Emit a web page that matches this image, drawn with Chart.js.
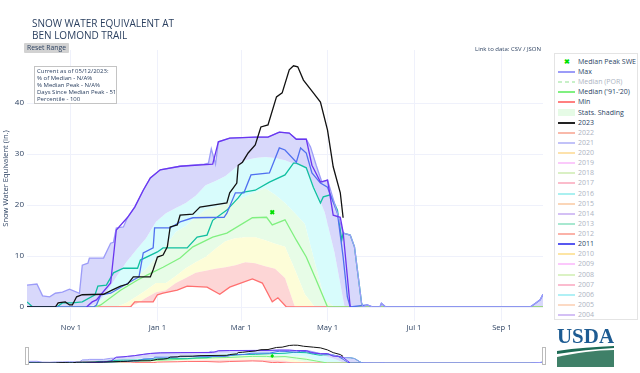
<!DOCTYPE html>
<html>
<head>
<meta charset="utf-8">
<title>Snow Water Equivalent</title>
<script src="https://cdn.jsdelivr.net/npm/chart.js@4"></script>
<style>
  html, body { margin: 0; padding: 0; background: #fff; }
  body { width: 640px; height: 373px; position: relative; overflow: hidden; font-family: "Open Sans", sans-serif; color: #2a3f5f; }
  canvas { position: absolute; left: 0; }
  #title { position: absolute; left: 32px; top: 17px; font-size: 10px; line-height: 12px; }
  #reset { position: absolute; left: 24px; top: 43px; width: 45px; height: 10px; background: #d2d2d2; font-size: 6.8px; line-height: 10px; text-align: center; border-radius: 1px; }
  #note { position: absolute; left: 34px; top: 66px; width: 79px; height: 35px; background: #fff; border: 1px solid #c4c4c4; font-size: 6px; line-height: 7px; padding: 1px 0 0 2px; white-space: nowrap; }
  #link { position: absolute; left: 475px; top: 45px; font-size: 6px; line-height: 8px; white-space: nowrap; }
  #legend { position: absolute; left: 554px; top: 53px; width: 82px; height: 265px; border: 1px solid #e4e4e4; background: #fff; }
  .row { position: absolute; left: 3px; height: 10px; width: 78px; font-size: 7px; line-height: 10px; white-space: nowrap; }
  .row .sw { position: absolute; left: 0; top: 4px; width: 17px; height: 2px; }
  .row .tx { position: absolute; left: 20px; top: 0; }
  .handle { position: absolute; top: 347px; width: 2px; height: 16px; border: 1px solid #bbb; background: #fff; }
  #usda { position: absolute; left: 556px; top: 325px; }
</style>
</head>
<body>
<canvas id="mainChart" width="640" height="340" style="top:0"></canvas>
<canvas id="sliderChart" width="640" height="31" style="top:338px"></canvas>
<div id="title">SNOW WATER EQUIVALENT AT<br>BEN LOMOND TRAIL</div>
<div id="reset">Reset Range</div>
<div id="note">Current as of 05/12/2023:<br>% of Median - N/A%<br>% Median Peak - N/A%<br>Days Since Median Peak - 51<br>Percentile - 100</div>
<div id="link">Link to data: CSV / JSON</div>
<div id="legend"></div>
<div class="handle" style="left:25px"></div>
<div class="handle" style="left:542px"></div>
<svg id="usda" width="60" height="44" viewBox="0 0 60 44">
  <text x="1" y="18" font-family="Liberation Serif" font-size="22" font-weight="bold" textLength="57" lengthAdjust="spacingAndGlyphs" fill="#1d5b92">USDA</text>
  <path d="M1 26 C 20 23 40 22 58 21 L58 23 C 40 24 20 26 1 29 Z" fill="#1d6b55"/>
  <path d="M1 32 C 20 28 40 25 58 25 L58 42 L1 42 Z" fill="#3f8068"/>
</svg>
<script>
// water year days, 0 = Oct 1
const tickDays = [31, 92, 151, 212, 273, 335];
const tickLabels = ["Nov 1", "Jan 1", "Mar 1", "May 1", "Jul 1", "Sep 1"];

// percentile bands share one weekly day list
const bandDays = [0,7,14,21,28,35,42,49,56,63,70,77,84,91,98,105,112,119,126,133,140,147,154,161,168,175,182,189,196,203,210,217,224,231,238,364];
const p10 = [0,0,0,0,0,0,0,0,0,0,0,0.6,1.8,2.9,3.3,4.7,5.7,6.7,7.1,7.5,7.8,8.2,8.8,8.6,8,7.5,5.7,0,0,0,0,0,0,0,0,0];
const p30 = [0,0,0,0,0,0,0,0,0,0,0.8,2,3.3,4.7,4.7,6.1,7.6,8.8,9.8,11.4,12.9,13.5,13.7,13.7,13.1,12.4,11.8,7.3,2.5,0,0,0,0,0,0,0];
const p70 = [0,0,0,0,0,0,0,0.4,2.2,3.5,4.3,5.7,7.5,9.6,12,14.7,15.9,17.6,19,19.6,20.2,20.8,21.6,22.5,23.3,22,20.4,18.4,16.3,8.8,1.4,0,0,0,0,0];
const p90 = [0,0,0,0,0,0,0,0.6,2.9,5.9,8.8,11.2,13.5,16.7,18.4,19.4,20.4,21.8,23.9,24.7,25.7,27.3,28.8,29.2,29.4,29.2,28.8,28,27.5,23.3,18.6,10.6,0,0,0,0];

const minDays = [0,73,76,89,92,96,106,113,127,136,143,159,166,173,177,183,364];
const minVals = [0,0,1,1,2.4,2.7,3.3,4.1,3.9,2.5,3.9,5.5,4.7,1,1.8,0,0];

const maxDays = [0,7,11,16,20,25,30,37,39,43,44,54,59,61,63,68,71,76,82,87,94,108,125,128,130,133,135,143,161,170,178,185,190,197,200,204,208,212,219,222,223,228,231,236,237,240,244,249,250,253,355,358,362,364];
const maxVals = [4.3,4.5,2.2,2,2.7,2.9,3.5,2.7,8.2,8.6,9.6,9.6,12.5,12.7,15.5,15.7,17.6,19.6,22.9,25.3,26.9,27.6,28,28.2,31,28,32.4,33.1,33.3,33.3,34.3,34.1,32.9,32.9,31.4,27.8,24.5,24.9,18.4,15.5,14.5,14.1,11.8,0.8,0,0.4,0,0,0.7,0,0,0.6,1.4,2.5];

const medianDays = [0,48,52,66,78,85,96,108,117,131,141,159,169,173,182,190,197,204,212,364];
const medianVals = [0,0,0.4,3.3,5.3,6.3,7.8,9.6,11.8,13.7,14.5,17.5,17.6,16.1,17.1,13.1,9.8,5.3,0,0];

const peakDay = [173];
const peakSwe = [18.6];

const days2023 = [0,20,22,27,30,32,35,39,54,60,66,71,75,87,89,92,96,99,101,106,108,117,122,141,143,148,149,152,156,161,165,170,176,180,185,188,191,195,202,207,212,216,221,223];
const swe2023 = [0,0,0.8,1,0.4,0.4,2,2.4,2.5,3.3,4.1,4.5,5.9,5.9,7.3,9.8,10.2,11.8,15.7,16.1,18,18.2,19.6,20.4,22.4,24.3,27.8,28.4,30.2,31.8,35.3,35.7,41.2,42,46.5,47.3,47.1,44.5,42,40.2,34.7,27.5,22.4,17.5];

const days2011 = [0,47,49,52,59,75,79,82,89,90,101,108,117,139,141,147,153,158,171,178,182,190,193,197,201,207,212,219,223,226,228,240,244,249,250,253,355,358,362,364];
const swe2011 = [0,0,0.4,2.4,2.7,5.3,5.9,10.6,11.6,15.5,15.5,16.7,17.5,17.6,18.4,22.4,22.4,25.9,26.3,31.2,30.8,28.4,31.2,30.2,26.3,24.3,23.5,18.4,9.8,2,0,0.4,0,0,0.7,0,0,0.6,1.4,2.5];

// the teal and violet years drawn on top of the shading
const tealDays = [0,4,21,25,32,39,48,50,56,61,68,78,80,92,96,113,120,127,131,141,149,152,161,171,182,188,190,197,202,207,209,214,219,222,223,228,231,236,237];
const tealVals = [1,0,0,0.8,0.8,1,2.4,4.1,4.3,6.7,7.6,7.6,9.2,10.8,11.6,11.6,13.7,14.1,17,19,21.4,22.5,22.9,24.5,25.9,28.2,28.2,27.3,23.5,20.4,21.6,22,19,13.1,14.5,14.1,11.8,0.8,0];
const violetDays = [42,46,49,59,63,71,76,82,87,94,108,131,135,143,161,170,178,185,190,197,201,207,212,216,221,223,226,228];
const violetVals = [0,1,1.4,4.7,15.1,17.6,19.6,22.9,25.3,26.9,27.6,28,32.4,33.1,33.3,33.3,34.3,34.1,32.9,32.9,27.8,24.5,24.9,18,17.6,14.7,5.9,0];

const legendNames = ["Median Peak SWE","Max","Median (POR)","Median ('91-'20)","Min","Stats. Shading","2023","2022","2021","2020","2019","2018","2017","2016","2015","2014","2013","2012","2011","2010","2009","2008","2007","2006","2005","2004"];
const legendColors = ["#00e000","#9c9cf8","#c8f0c8","#80f080","#ff8080","#e6fbe6","#222222","#f9b9aa","#c2c2f8","#fde2ac","#fbcafb","#daf0c4","#fbbccb","#aaf0f0","#fbd6b8","#d4c0f5","#a8e8d0","#fbb2a8","#5858f0","#fde5a4","#fcc8fc","#dbf2c4","#fbbccf","#b0f0f5","#fcdac4","#d4c0f5"];
const activeNames = ["Median Peak SWE","Max","Median ('91-'20)","Min","Stats. Shading","2023","2011"];

function pts(days, vals) {
  return days.map((d, i) => ({ x: d, y: vals[i] }));
}

function buildDatasets(w, markerSize) {
  function band(data, fillColor, fillTo) {
    return { data: data, borderWidth: 0, pointRadius: 0, tension: 0, backgroundColor: fillColor, fill: fillTo, order: 20 };
  }
  function line(data, color, width, order) {
    return { data: data, borderColor: color, borderWidth: width, pointRadius: 0, tension: 0, fill: false, order: order };
  }
  return [
    line(pts(minDays, minVals), "#ff7070", w, 9),
    band(pts(bandDays, p10), "#fdd6d6", 0),
    band(pts(bandDays, p30), "#fdfdd8", 1),
    band(pts(bandDays, p70), "#e7fce7", 2),
    band(pts(bandDays, p90), "#d8fcfc", 3),
    Object.assign(line(pts(maxDays, maxVals), "#9c9cf8", w, 4), { backgroundColor: "#d8d8fb", fill: 4 }),
    line(pts(medianDays, medianVals), "#80f080", w, 7),
    line(pts(violetDays, violetVals), "#6a35f0", w, 3),
    line(pts(tealDays, tealVals), "#10bfa0", w, 6),
    line(pts(days2011, swe2011), "#5070f0", w, 5),
    line(pts(days2023, swe2023), "#111111", w, 2),
    { data: pts(peakDay, peakSwe), showLine: false, pointStyle: "crossRot", pointRadius: markerSize, pointBorderWidth: 2, pointBorderColor: "#00e000", order: 1 }
  ];
}

new Chart(document.getElementById("mainChart"), {
  type: "line",
  data: { datasets: buildDatasets(1.3, 2.5) },
  options: {
    responsive: false,
    animation: false,
    layout: { padding: { left: 0, right: 97, top: 50, bottom: 5 } },
    plugins: {
      legend: { display: false },
      tooltip: { enabled: false },
      filler: { drawTime: "beforeDatasetsDraw" }
    },
    scales: {
      x: {
        type: "linear",
        min: 0,
        max: 364,
        afterBuildTicks: (scale) => { scale.ticks = tickDays.map(d => ({ value: d })); },
        afterFit: (scale) => { scale.height = 28; },
        grid: { color: "#eff1fb", tickLength: 14, tickColor: "#eff1fb" },
        border: { display: false },
        ticks: {
          autoSkip: false,
          maxRotation: 0,
          padding: 2,
          color: "#2a3f5f",
          font: { family: "Open Sans", size: 7.6 },
          callback: (v) => tickLabels[tickDays.indexOf(v)]
        }
      },
      y: {
        min: 0,
        max: 50.4,
        afterBuildTicks: (scale) => { scale.ticks = [0, 10, 20, 30, 40].map(v => ({ value: v })); },
        afterFit: (scale) => { scale.width = 27; },
        grid: { color: "#eff1fb", drawTicks: false },
        border: { display: false },
        title: { display: true, text: "Snow Water Equivalent (in.)", color: "#2a3f5f", padding: { top: 1, bottom: 0 }, font: { family: "Open Sans", size: 7.6, weight: "normal" } },
        ticks: { padding: 3, color: "#2a3f5f", font: { family: "Open Sans", size: 8 } }
      }
    }
  }
});

new Chart(document.getElementById("sliderChart"), {
  type: "line",
  data: { datasets: buildDatasets(1, 1.5) },
  options: {
    responsive: false,
    animation: false,
    layout: { padding: { left: 27, right: 97, top: 0, bottom: 0 } },
    plugins: {
      legend: { display: false },
      tooltip: { enabled: false },
      filler: { drawTime: "beforeDatasetsDraw" }
    },
    scales: {
      x: { type: "linear", min: 0, max: 364, display: false },
      y: { min: 0, max: 50.4, display: false }
    }
  }
});

const legendBox = document.getElementById("legend");
legendNames.forEach((name, i) => {
  const active = activeNames.includes(name);
  const row = document.createElement("div");
  row.className = "row";
  row.style.top = (3 + i * 10.12) + "px";
  const sw = document.createElement("span");
  sw.className = "sw";
  sw.style.background = legendColors[i];
  const tx = document.createElement("span");
  tx.className = "tx";
  tx.textContent = name;
  tx.style.color = active ? "#2a3f5f" : "#adb4c2";
  if (name === "Median Peak SWE") {
    sw.style.background = "none";
    sw.style.color = legendColors[i];
    sw.style.top = "0";
    sw.style.height = "10px";
    sw.style.textAlign = "center";
    sw.style.fontWeight = "bold";
    sw.textContent = "\u2716";
  }
  if (name === "Stats. Shading") {
    sw.style.height = "7px";
    sw.style.top = "1.5px";
  }
  if (name === "Median (POR)") {
    sw.style.background = "repeating-linear-gradient(90deg," + legendColors[i] + " 0 4px,transparent 4px 7px)";
  }
  row.appendChild(sw);
  row.appendChild(tx);
  legendBox.appendChild(row);
});
</script>
</body>
</html>
